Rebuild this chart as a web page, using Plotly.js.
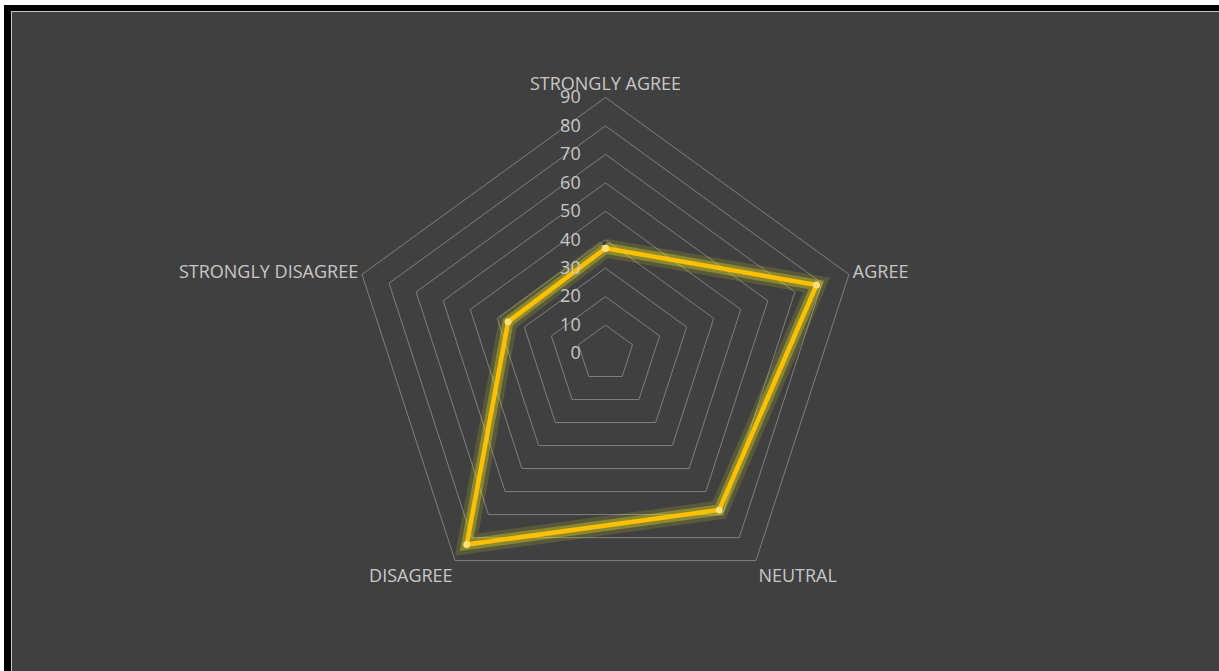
<!DOCTYPE html>
<html>
<head>
<meta charset="utf-8">
<script src="https://cdn.plot.ly/plotly-3.0.1.min.js"></script>
<style>
  html, body { margin: 0; padding: 0; background: #ffffff; width: 1219px; height: 671px; overflow: hidden; }
  #frame { position: absolute; left: 4px; top: 5px; width: 1260px; height: 700px; background: #000000; }
  #inner { position: absolute; left: 7px; top: 6px; right: 0; bottom: 0; border-left: 1px solid #c8c8c8; border-top: 1px solid #c8c8c8; background: #404040; }
  #chart { position: absolute; left: 0; top: 0; width: 1207px; height: 659px; }
</style>
</head>
<body>
<div id="frame"><div id="inner"><div id="chart"></div></div></div>
<script>
const categories = ['STRONGLY AGREE', 'AGREE', 'NEUTRAL', 'DISAGREE', 'STRONGLY DISAGREE'];
const responses = [37, 78, 68, 83, 36];
const radialTicks = [0, 10, 20, 30, 40, 50, 60, 70, 80, 90];

const thetaClosed = categories.concat([categories[0]]);
const rClosed = responses.concat([responses[0]]);

const W = 1207, H = 659;
// polar centre (in chart div px) and radius
const cx = 593.5, cy = 341.5, R = 256;
const dom = {
  x: [(cx - R) / W, (cx + R) / W],
  y: [1 - (cy + R) / H, 1 - (cy - R) / H]
};

const traces = [
  { type: 'scatterpolar', r: rClosed, theta: thetaClosed, mode: 'lines',
    line: { color: 'rgba(215,215,40,0.16)', width: 19 }, hoverinfo: 'skip', showlegend: false },
  { type: 'scatterpolar', r: rClosed, theta: thetaClosed, mode: 'lines',
    line: { color: 'rgba(235,225,30,0.35)', width: 11 }, hoverinfo: 'skip', showlegend: false },
  { type: 'scatterpolar', r: rClosed, theta: thetaClosed, mode: 'lines+markers',
    line: { color: '#FFC000', width: 4.5 },
    marker: { color: '#FFE07A', size: 7 },
    name: 'Responses', showlegend: false }
];

const layout = {
  width: W, height: H,
  paper_bgcolor: '#404040',
  plot_bgcolor: '#404040',
  margin: { l: 0, r: 0, t: 0, b: 0 },
  font: { family: 'Open Sans, sans-serif', color: '#c8c8c8', size: 18 },
  showlegend: false,
  polar: {
    domain: dom,
    bgcolor: '#404040',
    gridshape: 'linear',
    radialaxis: {
      range: [0, 90],
      tickvals: radialTicks,
      ticktext: radialTicks.map(String),
      angle: 90,
      tickangle: 90,
      side: 'counterclockwise',
      showline: false,
      showgrid: true,
      gridcolor: '#7f7f7f',
      gridwidth: 1,
      ticks: 'outside',
      ticklen: 18,
      tickcolor: 'rgba(0,0,0,0)',
      tickfont: { family: 'Open Sans, sans-serif', size: 18, color: '#c8c8c8' }
    },
    angularaxis: {
      type: 'category',
      direction: 'clockwise',
      rotation: 90,
      showgrid: false,
      showline: true,
      linecolor: '#7f7f7f',
      linewidth: 1,
      ticks: '',
      tickfont: { family: 'Open Sans, sans-serif', size: 18, color: '#c8c8c8' }
    }
  }
};

Plotly.newPlot('chart', traces, layout, { displayModeBar: false, staticPlot: true });
</script>
</body>
</html>
